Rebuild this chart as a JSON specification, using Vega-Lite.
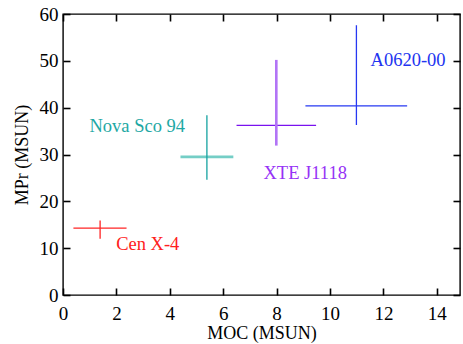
{
  "$schema": "https://vega.github.io/schema/vega-lite/v6.json",
  "width": 397,
  "height": 281,
  "autosize": {"type": "none"},
  "padding": {"left": 63, "top": 14, "right": 3, "bottom": 49},
  "background": "white",
  "config": {
    "view": {"stroke": "black", "strokeWidth": 1.4},
    "font": "Liberation Serif",
    "axis": {"domain": false, "grid": false, "labelFont": "Liberation Serif", "titleFont": "Liberation Serif", "labelColor": "black", "titleColor": "black", "titleFontWeight": "normal", "labelFontSize": 19, "titleFontSize": 18, "zindex": 1}
  },
  "data": {
    "values": [
      {"name": "Cen X-4", "x": 1.39, "xlo": 0.39, "xhi": 2.38, "y": 14.3, "ylo": 12.0, "yhi": 15.9, "lx": 1.99, "ly": 10.9},
      {"name": "Nova Sco 94", "x": 5.39, "xlo": 4.40, "xhi": 6.38, "y": 29.5, "ylo": 24.6, "yhi": 38.4, "lx": 0.99, "ly": 36.1},
      {"name": "XTE J1118", "x": 7.99, "xlo": 6.50, "xhi": 9.48, "y": 36.2, "ylo": 31.9, "yhi": 50.2, "lx": 7.51, "ly": 26.1},
      {"name": "A0620-00", "x": 10.99, "xlo": 9.08, "xhi": 12.89, "y": 40.4, "ylo": 36.3, "yhi": 57.6, "lx": 11.52, "ly": 50.2}
    ]
  },
  "resolve": {"axis": {"x": "independent", "y": "independent"}, "scale": {"color": "independent"}},
  "layer": [
    {
      "mark": {"type": "rule"},
      "encoding": {
        "x": {"field": "xlo", "type": "quantitative", "scale": {"domain": [0, 14.87], "nice": false, "zero": false},
          "axis": {"orient": "bottom", "title": "MOC (MSUN)", "values": [0, 2, 4, 6, 8, 10, 12, 14], "ticks": false, "labelPadding": 9, "titlePadding": 1, "labelFlush": false}},
        "x2": {"field": "xhi"},
        "y": {"field": "y", "type": "quantitative", "scale": {"domain": [0, 60], "nice": false, "zero": false},
          "axis": {"orient": "left", "title": "MPr (MSUN)", "values": [0, 10, 20, 30, 40, 50, 60], "ticks": false, "labelPadding": 5, "titlePadding": 8, "labelFlush": false}},
        "color": {"field": "name", "type": "nominal", "legend": null,
          "scale": {"domain": ["Cen X-4", "Nova Sco 94", "XTE J1118", "A0620-00"], "range": ["#ff2424", "#74cec6", "#7a12ee", "#2638f2"]}},
        "strokeWidth": {"condition": {"test": "datum.name === 'Nova Sco 94'", "value": 2.6}, "value": 1.3}
      }
    },
    {
      "mark": {"type": "rule"},
      "encoding": {
        "x": {"field": "x", "type": "quantitative",
          "axis": {"orient": "top", "title": null, "labels": false, "values": [0, 2, 4, 6, 8, 10, 12, 14], "tickSize": 7, "offset": -7, "tickWidth": 1.6, "tickColor": "#000000"}},
        "y": {"field": "ylo", "type": "quantitative",
          "axis": {"orient": "right", "title": null, "labels": false, "values": [0, 10, 20, 30, 40, 50, 60], "tickSize": 7, "offset": -7, "tickWidth": 1.6, "tickColor": "#000000"}},
        "y2": {"field": "yhi"},
        "color": {"field": "name", "type": "nominal", "legend": null,
          "scale": {"domain": ["Cen X-4", "Nova Sco 94", "XTE J1118", "A0620-00"], "range": ["#ff2424", "#14a2a0", "#b274f6", "#2638f2"]}},
        "strokeWidth": {"condition": {"test": "datum.name === 'XTE J1118'", "value": 2.6}, "value": 1.3}
      }
    },
    {
      "mark": {"type": "text", "align": "left", "baseline": "middle", "fontSize": 18.5, "font": "Liberation Serif"},
      "encoding": {
        "x": {"field": "lx", "type": "quantitative",
          "axis": {"orient": "bottom", "title": null, "labels": false, "values": [0, 2, 4, 6, 8, 10, 12, 14], "tickSize": 7, "offset": -7, "tickWidth": 1.6, "tickColor": "#000000"}},
        "y": {"field": "ly", "type": "quantitative",
          "axis": {"orient": "left", "title": null, "labels": false, "values": [0, 10, 20, 30, 40, 50, 60], "tickSize": 7, "offset": -7, "tickWidth": 1.6, "tickColor": "#000000"}},
        "text": {"field": "name"},
        "color": {"field": "name", "type": "nominal", "legend": null,
          "scale": {"domain": ["Cen X-4", "Nova Sco 94", "XTE J1118", "A0620-00"], "range": ["#ff2020", "#1ea8a4", "#9632f6", "#2234f0"]}}
      }
    }
  ]
}
